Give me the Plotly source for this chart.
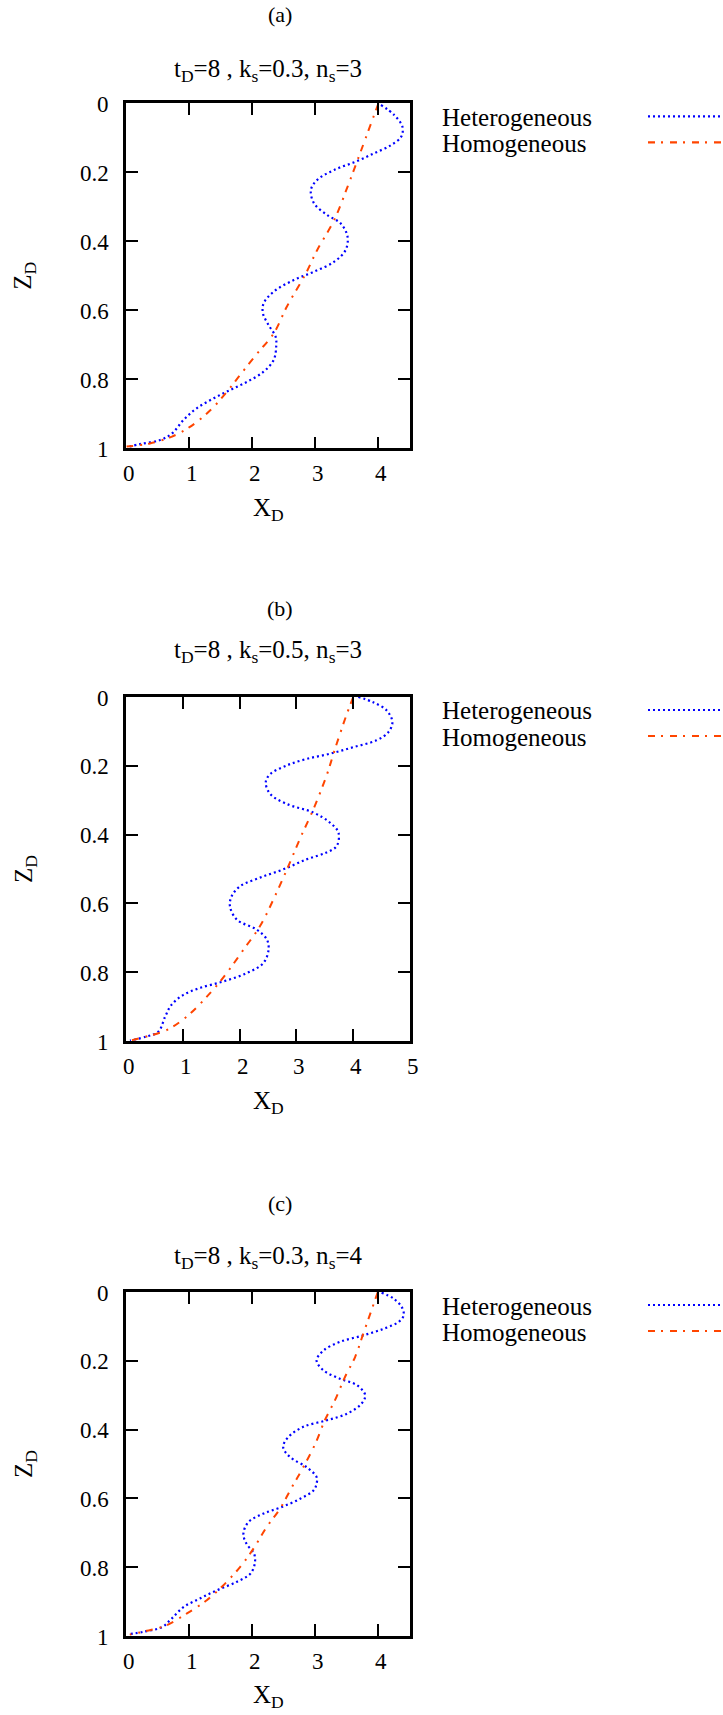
import plotly.graph_objects as go

W, H = 723, 1715
FONT = "Liberation Serif"
BLUE = "#0000ff"
ORANGE = "#ff4500"

# ---------------- data ----------------
# Panel (a): t_D=8, k_s=0.3, n_s=3
a_het_x = [4.04, 4.25, 4.38, 4.36, 4.20, 3.93, 3.64, 3.30, 3.03, 2.93, 2.98, 3.19, 3.40, 3.51, 3.48,
           3.30, 2.98, 2.66, 2.34, 2.18, 2.17, 2.26, 2.37, 2.38, 2.34, 2.18, 1.92, 1.65, 1.39, 1.12,
           0.91, 0.73, 0.54, 0.22, 0.01]
a_het_z = [0.005, 0.034, 0.068, 0.097, 0.121, 0.145, 0.169, 0.193, 0.222, 0.251, 0.290, 0.324, 0.348,
           0.386, 0.425, 0.459, 0.488, 0.512, 0.546, 0.580, 0.609, 0.643, 0.676, 0.705, 0.744, 0.778,
           0.807, 0.831, 0.855, 0.884, 0.918, 0.957, 0.976, 0.988, 0.997]
a_hom_x = [4.00, 3.67, 3.51, 3.30, 3.03, 2.85, 2.55, 2.34, 2.08, 1.81, 1.60, 1.34, 1.02, 0.73, 0.38, 0.01]
a_hom_z = [0.0, 0.164, 0.242, 0.338, 0.425, 0.493, 0.589, 0.667, 0.725, 0.787, 0.836, 0.889, 0.937,
           0.966, 0.986, 0.995]

# Panel (b): t_D=8, k_s=0.5, n_s=3
b_het_x = [4.09, 4.35, 4.59, 4.69, 4.62, 4.41, 4.00, 3.59, 3.18, 2.83, 2.54, 2.46, 2.54, 2.83, 3.30,
           3.59, 3.74, 3.71, 3.53, 3.18, 2.77, 2.36, 2.01, 1.86, 1.83, 1.95, 2.30, 2.48, 2.51, 2.42,
           2.12, 1.71, 1.30, 1.01, 0.80, 0.69, 0.57, 0.36, 0.07]
b_het_z = [0.0, 0.015, 0.039, 0.073, 0.102, 0.126, 0.146, 0.165, 0.180, 0.199, 0.224, 0.248, 0.282,
           0.311, 0.336, 0.365, 0.394, 0.433, 0.452, 0.472, 0.501, 0.525, 0.550, 0.579, 0.608, 0.647,
           0.676, 0.705, 0.734, 0.773, 0.803, 0.827, 0.846, 0.866, 0.895, 0.929, 0.973, 0.987, 0.999]
b_hom_x = [4.00, 3.88, 3.68, 3.53, 3.30, 3.06, 2.86, 2.65, 2.36, 2.07, 1.77, 1.48, 1.07, 0.72, 0.36, 0.07]
b_hom_z = [0.0, 0.053, 0.151, 0.229, 0.326, 0.413, 0.491, 0.569, 0.666, 0.734, 0.803, 0.861, 0.929,
           0.968, 0.987, 0.999]

# Panel (c): t_D=8, k_s=0.3, n_s=4
c_het_x = [4.05, 4.24, 4.37, 4.40, 4.32, 4.08, 3.76, 3.39, 3.13, 3.02, 3.13, 3.39, 3.66, 3.79, 3.73,
           3.50, 3.18, 2.81, 2.57, 2.49, 2.60, 2.86, 3.02, 3.02, 2.97, 2.76, 2.47, 2.18, 1.94, 1.86,
           1.91, 2.03, 2.04, 1.97, 1.75, 1.44, 1.17, 0.91, 0.72, 0.57, 0.27, 0.04]
c_het_z = [0.002, 0.019, 0.044, 0.068, 0.087, 0.107, 0.126, 0.145, 0.170, 0.199, 0.228, 0.252, 0.271,
           0.300, 0.325, 0.354, 0.373, 0.392, 0.422, 0.451, 0.480, 0.509, 0.538, 0.557, 0.577, 0.601,
           0.625, 0.644, 0.669, 0.703, 0.732, 0.761, 0.790, 0.819, 0.843, 0.867, 0.891, 0.916, 0.950,
           0.974, 0.988, 0.995]
c_hom_x = [3.99, 3.89, 3.76, 3.63, 3.47, 3.31, 3.15, 3.00, 2.81, 2.63, 2.44, 2.23, 2.02, 1.81, 1.54,
           1.28, 0.96, 0.64, 0.33, 0.06]
c_hom_z = [0.0, 0.053, 0.121, 0.189, 0.247, 0.315, 0.373, 0.441, 0.509, 0.567, 0.630, 0.683, 0.746,
           0.799, 0.853, 0.896, 0.935, 0.969, 0.985, 0.996]

panel_labels = ["(a)", "(b)", "(c)"]
panel_titles = ["t<sub>D</sub>=8 , k<sub>s</sub>=0.3, n<sub>s</sub>=3",
                "t<sub>D</sub>=8 , k<sub>s</sub>=0.5, n<sub>s</sub>=3",
                "t<sub>D</sub>=8 , k<sub>s</sub>=0.3, n<sub>s</sub>=4"]
x_max = [4.5, 5.0, 4.5]
x_tickvals = [[0, 1, 2, 3, 4], [0, 1, 2, 3, 4, 5], [0, 1, 2, 3, 4]]
x_ticktext = [["0", "1", "2", "3", "4"], ["0", "1", "2", "3", "4", "5"], ["0", "1", "2", "3", "4"]]
z_tickvals = [0, 0.2, 0.4, 0.6, 0.8, 1]
z_ticktext = ["0", "0.2", "0.4", "0.6", "0.8", "1"]
series_names = ["Heterogeneous", "Homogeneous"]

het = [(a_het_x, a_het_z), (b_het_x, b_het_z), (c_het_x, c_het_z)]
hom = [(a_hom_x, a_hom_z), (b_hom_x, b_hom_z), (c_hom_x, c_hom_z)]

# ---------------- layout (pixels) ----------------
plot_left, plot_right = 126, 410
tops = [103.3, 697.0, 1292.0]
bottoms = [448.3, 1041.0, 1636.0]
label_y = [15, 608, 1203]
title_y = [67, 648, 1254]
xlabel_y = [506, 1099, 1693]


def px(x):
    return x / W


def py(y):
    return 1 - y / H


BLUE_DASH = "2px,3px"
ORANGE_DASH = "7px,6px,2px,7px"

fig = go.Figure()
annotations = []
shapes = []

for i in range(3):
    xa = "x" if i == 0 else f"x{i+1}"
    ya = "y" if i == 0 else f"y{i+1}"
    hx, hz = het[i]
    mx, mz = hom[i]
    fig.add_trace(go.Scatter(x=hx, y=hz, mode="lines", line=dict(color=BLUE, width=2.2, dash=BLUE_DASH, shape="spline"),
                             xaxis=xa, yaxis=ya, showlegend=False, name=series_names[0]))
    fig.add_trace(go.Scatter(x=mx, y=mz, mode="lines", line=dict(color=ORANGE, width=2, dash=ORANGE_DASH, shape="spline"),
                             xaxis=xa, yaxis=ya, showlegend=False, name=series_names[1]))

    axis_common = dict(showline=True, linecolor="black", linewidth=2.5, mirror="ticks",
                       ticks="inside", ticklen=12, tickwidth=2, tickcolor="black",
                       showgrid=False, zeroline=False, automargin=False, showticklabels=False)
    xkey = "xaxis" if i == 0 else f"xaxis{i+1}"
    ykey = "yaxis" if i == 0 else f"yaxis{i+1}"
    fig.update_layout({
        xkey: dict(domain=[px(plot_left), px(plot_right)], range=[0, x_max[i]],
                   tickvals=x_tickvals[i], anchor=ya, **axis_common),
        ykey: dict(domain=[py(bottoms[i]), py(tops[i])], range=[1, 0],
                   tickvals=z_tickvals, anchor=xa, **axis_common),
    })

    # tick labels, positioned on the axes' own scales
    for v, t in zip(x_tickvals[i], x_ticktext[i]):
        annotations.append(dict(text=t, x=v, xref=xa, y=py(bottoms[i] + 25), yref="paper", xshift=3,
                                showarrow=False, xanchor="center", yanchor="middle",
                                font=dict(family=FONT, size=23, color="black")))
    for v, t in zip(z_tickvals, z_ticktext):
        annotations.append(dict(text=t, x=px(111), xref="paper", y=v, yref=ya, yshift=-1,
                                showarrow=False, xanchor="right", yanchor="middle",
                                font=dict(family=FONT, size=23, color="black")))

    cx = (plot_left + plot_right) / 2
    annotations.append(dict(text=panel_labels[i], x=px(280), y=py(label_y[i]), xref="paper", yref="paper",
                            showarrow=False, xanchor="center", yanchor="middle",
                            font=dict(family=FONT, size=22, color="black")))
    annotations.append(dict(text=panel_titles[i], x=px(cx), y=py(title_y[i] + 3), xref="paper", yref="paper",
                            showarrow=False, xanchor="center", yanchor="middle",
                            font=dict(family=FONT, size=25, color="black")))
    annotations.append(dict(text="X<sub>D</sub>", x=px(cx), y=py(xlabel_y[i] + 3), xref="paper", yref="paper",
                            showarrow=False, xanchor="center", yanchor="middle",
                            font=dict(family=FONT, size=25, color="black")))
    annotations.append(dict(text="Z<sub>D</sub>", x=px(25), y=py((tops[i] + bottoms[i]) / 2), xref="paper",
                            yref="paper", showarrow=False, xanchor="center", yanchor="middle", textangle=-90,
                            font=dict(family=FONT, size=25, color="black")))
    # legend (gnuplot style: text left, sample right)
    for j, (name, color, dash) in enumerate([(series_names[0], BLUE, BLUE_DASH), (series_names[1], ORANGE, ORANGE_DASH)]):
        yrow = tops[i] + 13 + 26 * j
        annotations.append(dict(text=name, x=px(440), y=py(yrow + 1), xref="paper", yref="paper",
                                showarrow=False, xanchor="left", yanchor="middle",
                                font=dict(family=FONT, size=25, color="black")))
        shapes.append(dict(type="line", xref="paper", yref="paper", x0=px(648), x1=px(740),
                           y0=py(yrow), y1=py(yrow), line=dict(color=color, width=2.2, dash=dash)))

fig.update_layout(width=W, height=H, margin=dict(l=0, r=0, t=0, b=0, pad=0),
                  paper_bgcolor="white", plot_bgcolor="white", showlegend=False,
                  font=dict(family=FONT, size=23, color="black"),
                  annotations=annotations, shapes=shapes)

fig.write_html("out.html")
